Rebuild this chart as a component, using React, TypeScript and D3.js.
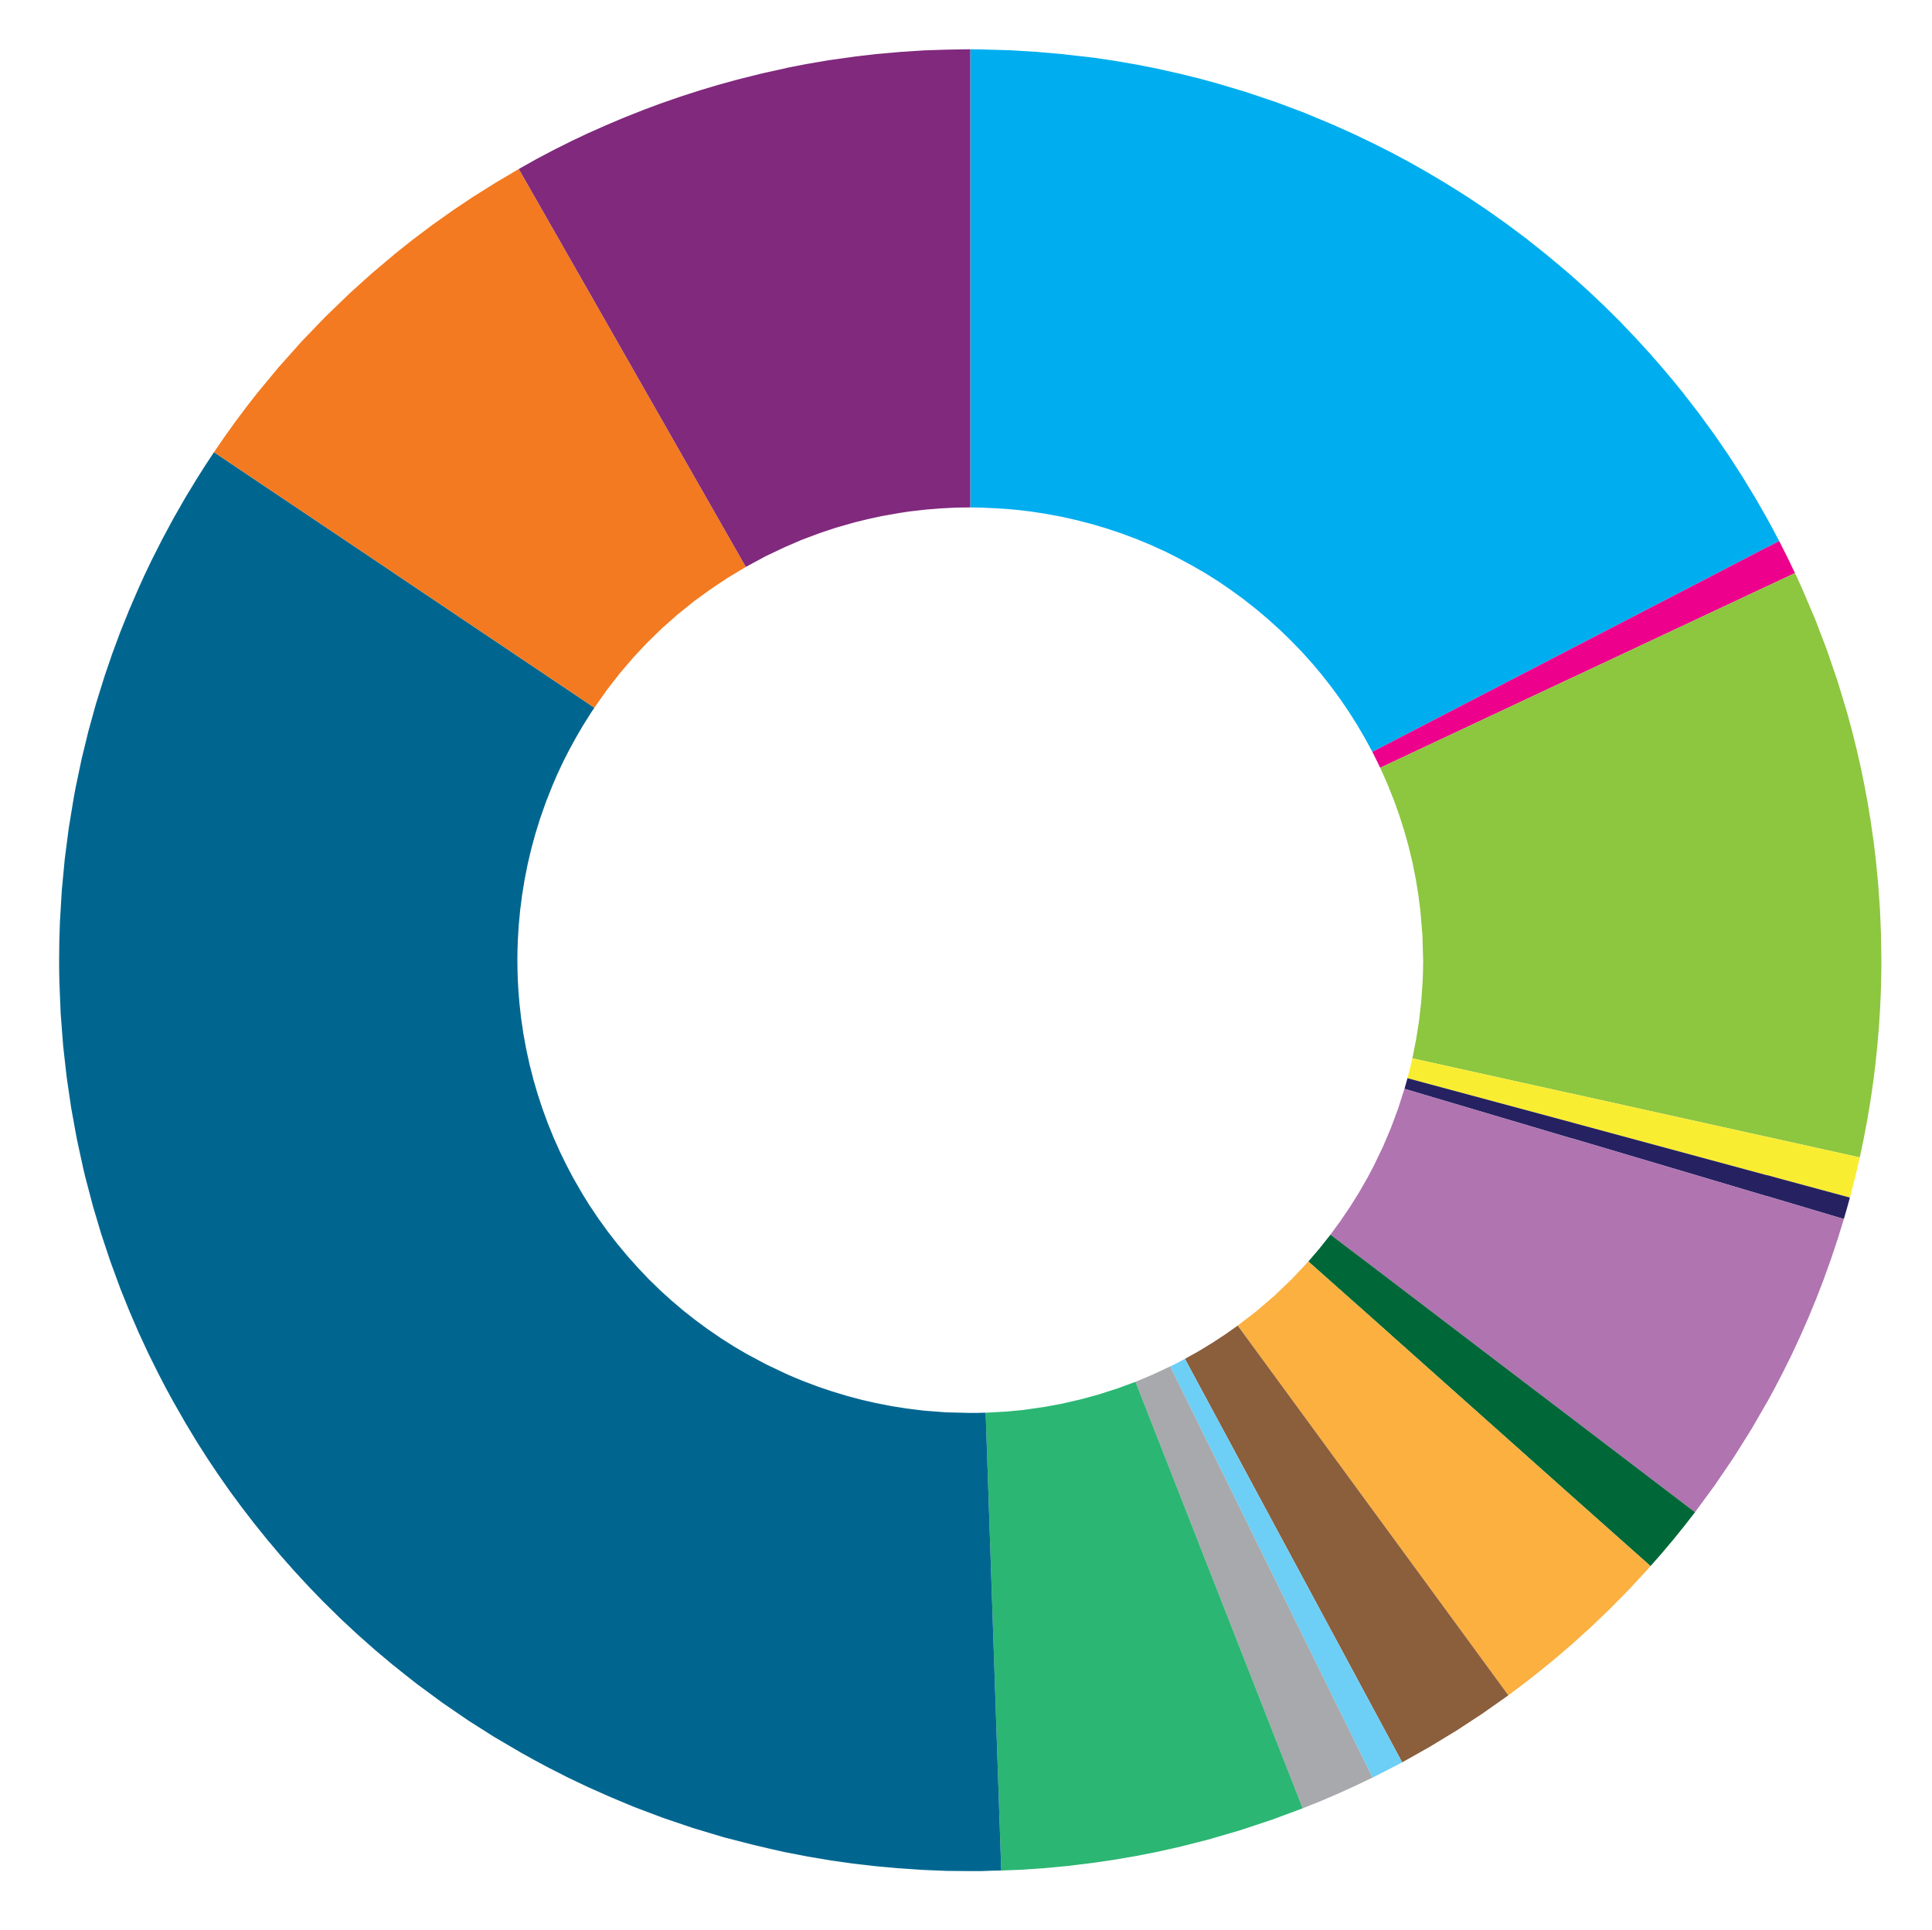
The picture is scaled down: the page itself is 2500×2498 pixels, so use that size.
import React from "react";
import * as d3 from "d3";

const categories = [
  "A", "B", "C", "D", "E", "F", "G", "H", "I", "J", "K", "L", "M", "N", "O",
];
// Share of the ring for each slice (in degrees of 360)
const values = [62.6, 2.25, 37.65, 2.6, 1.4, 20.8, 4.4, 12.1, 7.9, 2.1, 4.8, 19.45, 125.85, 26.4, 29.7];
const colors = [
  "#00AEEF", "#EC008C", "#8DC63F", "#F9ED32", "#262262", "#B074B0", "#006838",
  "#FBB040", "#8B5E3C", "#6DCFF6", "#A7A9AC", "#2BB673", "#006690", "#F37A20", "#80297D",
];

const W = 2500;
const H = 2498;
const CX = 1255.5;
const CY = 1242.8;
const R_OUT = 1179;
const R_IN = 586;

export default function App() {
  const pie = d3
    .pie<number>()
    .sort(null)
    .value((d) => d);
  const arcs = pie(values);
  const arc = d3.arc<d3.PieArcDatum<number>>().innerRadius(R_IN).outerRadius(R_OUT);
  return (
    <svg
      width={W}
      height={H}
      viewBox={`0 0 ${W} ${H}`}
      style={{ position: "absolute", left: 0, top: 0, background: "#fff" }}
    >
      <g transform={`translate(${CX},${CY})`}>
        {arcs.map((a, i) => (
          <path key={categories[i]} d={arc(a) || ""} fill={colors[i]} />
        ))}
      </g>
    </svg>
  );
}
